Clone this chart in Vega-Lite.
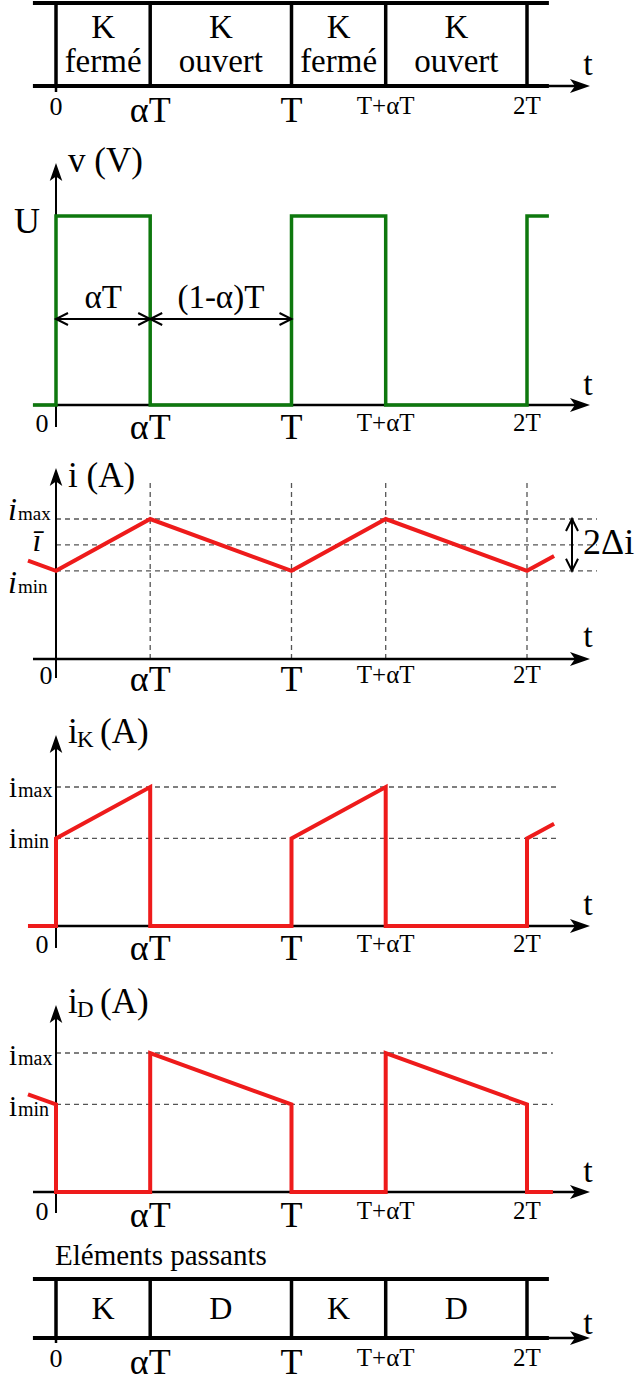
{
"$schema":"https://vega.github.io/schema/vega-lite/v6.json",
"padding":0,"spacing":0,"bounds":"flush","background":"white",
"config":{"view":{"stroke":null},"axis":{"disable":true},"concat":{"spacing":0},"text":{"font":"Liberation Serif","color":"black"}},
"data":{"values":[{}]},
"datasets":{
"ticks":[{"t":0,"lab":"0"},{"t":0.4,"lab":"αT"},{"t":1,"lab":"T"},{"t":1.4,"lab":"T+αT"},{"t":2,"lab":"2T"}],
"switch":[{"from":0,"to":0.4,"mid":0.2,"line1":"K","line2":"fermé"},{"from":0.4,"to":1,"mid":0.7,"line1":"K","line2":"ouvert"},{"from":1,"to":1.4,"mid":1.2,"line1":"K","line2":"fermé"},{"from":1.4,"to":2,"mid":1.7,"line1":"K","line2":"ouvert"}],
"passing":[{"mid":0.2,"elem":"K"},{"mid":0.7,"elem":"D"},{"mid":1.2,"elem":"K"},{"mid":1.7,"elem":"D"}],
"dims":[{"from":0,"to":0.4,"mid":0.2,"lab":"αT"},{"from":0.4,"to":1,"mid":0.7,"lab":"(1-α)T"}],
"levels3":[{"name":"imax","lvl":1},{"name":"imean","lvl":0.815},{"name":"imin","lvl":0.63}],
"levels":[{"name":"imax","lvl":1},{"name":"imin","lvl":0.63}],
"v":[{"n":0,"t":-0.098,"v":0},{"n":1,"t":0,"v":0},{"n":2,"t":0,"v":1},{"n":3,"t":0.4,"v":1},{"n":4,"t":0.4,"v":0},{"n":5,"t":1,"v":0},{"n":6,"t":1,"v":1},{"n":7,"t":1.4,"v":1},{"n":8,"t":1.4,"v":0},{"n":9,"t":2,"v":0},{"n":10,"t":2,"v":1},{"n":11,"t":2.093,"v":1}],
"i":[{"n":0,"t":-0.119,"i":0.703},{"n":1,"t":0,"i":0.63},{"n":2,"t":0.4,"i":1},{"n":3,"t":1,"i":0.63},{"n":4,"t":1.4,"i":1},{"n":5,"t":2,"i":0.63},{"n":6,"t":2.115,"i":0.736}],
"iK":[{"n":0,"t":-0.119,"i":0},{"n":1,"t":0,"i":0},{"n":2,"t":0,"i":0.63},{"n":3,"t":0.4,"i":1},{"n":4,"t":0.4,"i":0},{"n":5,"t":1,"i":0},{"n":6,"t":1,"i":0.63},{"n":7,"t":1.4,"i":1},{"n":8,"t":1.4,"i":0},{"n":9,"t":2,"i":0},{"n":10,"t":2,"i":0.63},{"n":11,"t":2.115,"i":0.736}],
"iD":[{"n":0,"t":-0.119,"i":0.703},{"n":1,"t":0,"i":0.63},{"n":2,"t":0,"i":0},{"n":3,"t":0.4,"i":0},{"n":4,"t":0.4,"i":1},{"n":5,"t":1,"i":0.63},{"n":6,"t":1,"i":0},{"n":7,"t":1.4,"i":0},{"n":8,"t":1.4,"i":1},{"n":9,"t":2,"i":0.63},{"n":10,"t":2,"i":0},{"n":11,"t":2.11,"i":0}]
},
"vconcat":[
{"width":644,"height":125,"layer":[
{"data":{"values":[{"edge":"bottom","lvl":0},{"edge":"top","lvl":1}]},"mark":{"type":"rule","color":"black","strokeWidth":4},"encoding":{"x":{"datum":-0.098,"type":"quantitative","scale":{"domain":[-0.23779,2.49682],"nice":false,"zero":false}},"x2":{"datum":2.093},"y":{"field":"lvl","type":"quantitative","scale":{"domain":[-0.46988,1.03614],"nice":false,"zero":false}}}},
{"data":{"name":"ticks"},"mark":{"type":"rule","color":"black","strokeWidth":3.5},"encoding":{"x":{"field":"t","type":"quantitative","scale":{"domain":[-0.23779,2.49682],"nice":false,"zero":false}},"y":{"datum":0,"type":"quantitative","scale":{"domain":[-0.46988,1.03614],"nice":false,"zero":false}},"y2":{"datum":1}}},
{"mark":{"type":"rule","color":"black","strokeWidth":2.5},"encoding":{"x":{"datum":0,"type":"quantitative","scale":{"domain":[-0.23779,2.49682],"nice":false,"zero":false}},"y":{"datum":-0.072,"type":"quantitative","scale":{"domain":[-0.46988,1.03614],"nice":false,"zero":false}},"y2":{"datum":0}}},
{"mark":{"type":"rule","color":"black","strokeWidth":2.5},"encoding":{"x":{"datum":2.09,"type":"quantitative","scale":{"domain":[-0.23779,2.49682],"nice":false,"zero":false}},"x2":{"datum":2.23},"y":{"datum":0,"type":"quantitative","scale":{"domain":[-0.46988,1.03614],"nice":false,"zero":false}}}},
{"mark":{"type":"point","shape":"M0,0L-2,-0.7L-1.5,0L-2,0.7Z","size":400,"filled":true,"color":"black","opacity":1,"strokeWidth":0},"encoding":{"x":{"datum":2.2675,"type":"quantitative","scale":{"domain":[-0.23779,2.49682],"nice":false,"zero":false}},"y":{"datum":0,"type":"quantitative","scale":{"domain":[-0.46988,1.03614],"nice":false,"zero":false}}}},
{"data":{"name":"switch"},"mark":{"type":"text","fontSize":33,"dy":-6,"baseline":"alphabetic","align":"center"},"encoding":{"x":{"field":"mid","type":"quantitative","scale":{"domain":[-0.23779,2.49682],"nice":false,"zero":false}},"y":{"datum":0.5,"type":"quantitative","scale":{"domain":[-0.46988,1.03614],"nice":false,"zero":false}},"text":{"field":"line1"}}},
{"data":{"name":"switch"},"mark":{"type":"text","fontSize":33,"dy":27.5,"baseline":"alphabetic","align":"center"},"encoding":{"x":{"field":"mid","type":"quantitative","scale":{"domain":[-0.23779,2.49682],"nice":false,"zero":false}},"y":{"datum":0.5,"type":"quantitative","scale":{"domain":[-0.46988,1.03614],"nice":false,"zero":false}},"text":{"field":"line2"}}},
{"data":{"name":"ticks"},"transform":[{"filter":"datum.lab !== '0'"}],"mark":{"type":"text","baseline":"top","align":"center","dy":8},"encoding":{"x":{"field":"t","type":"quantitative","scale":{"domain":[-0.23779,2.49682],"nice":false,"zero":false}},"y":{"datum":0,"type":"quantitative","scale":{"domain":[-0.46988,1.03614],"nice":false,"zero":false}},"text":{"field":"lab"},"size":{"condition":{"test":"datum.lab === 'αT' || datum.lab === 'T'","value":36},"value":25}}},
{"data":{"name":"ticks"},"transform":[{"filter":"datum.lab === '0'"}],"mark":{"type":"text","baseline":"top","align":"center","dy":8,"fontSize":26},"encoding":{"x":{"field":"t","type":"quantitative","scale":{"domain":[-0.23779,2.49682],"nice":false,"zero":false}},"y":{"datum":0,"type":"quantitative","scale":{"domain":[-0.46988,1.03614],"nice":false,"zero":false}},"text":{"field":"lab"}}},
{"mark":{"type":"text","text":"t","fontSize":34,"dy":-11,"baseline":"alphabetic","align":"center"},"encoding":{"x":{"datum":2.259,"type":"quantitative","scale":{"domain":[-0.23779,2.49682],"nice":false,"zero":false}},"y":{"datum":0,"type":"quantitative","scale":{"domain":[-0.46988,1.03614],"nice":false,"zero":false}}}}
]},
{"width":644,"height":315,"layer":[
{"mark":{"type":"rule","color":"black","strokeWidth":2.5},"encoding":{"x":{"datum":-0.0977,"type":"quantitative","scale":{"domain":[-0.23779,2.49682],"nice":false,"zero":false}},"x2":{"datum":2.225},"y":{"datum":0,"type":"quantitative","scale":{"domain":[-0.18519,1.48148],"nice":false,"zero":false}}}},
{"mark":{"type":"rule","color":"black","strokeWidth":2},"encoding":{"x":{"datum":0,"type":"quantitative","scale":{"domain":[-0.23779,2.49682],"nice":false,"zero":false}},"y":{"datum":-0.1164,"type":"quantitative","scale":{"domain":[-0.18519,1.48148],"nice":false,"zero":false}},"y2":{"datum":1.2275}}},
{"data":{"name":"v"},"mark":{"type":"line","color":"#0e780e","strokeWidth":3.5,"strokeJoin":"miter"},"encoding":{"x":{"field":"t","type":"quantitative","scale":{"domain":[-0.23779,2.49682],"nice":false,"zero":false}},"y":{"field":"v","type":"quantitative","scale":{"domain":[-0.18519,1.48148],"nice":false,"zero":false}},"order":{"field":"n"}}},
{"data":{"name":"dims"},"mark":{"type":"rule","color":"black","strokeWidth":2},"encoding":{"x":{"field":"from","type":"quantitative","scale":{"domain":[-0.23779,2.49682],"nice":false,"zero":false}},"x2":{"field":"to"},"y":{"datum":0.455,"type":"quantitative","scale":{"domain":[-0.18519,1.48148],"nice":false,"zero":false}}}},
{"data":{"name":"dims"},"mark":{"type":"point","shape":"M2,-1L0,0L2,1","size":144,"filled":false,"color":"black","opacity":1,"strokeWidth":2},"encoding":{"x":{"field":"from","type":"quantitative","scale":{"domain":[-0.23779,2.49682],"nice":false,"zero":false}},"y":{"datum":0.455,"type":"quantitative","scale":{"domain":[-0.18519,1.48148],"nice":false,"zero":false}}}},
{"data":{"name":"dims"},"mark":{"type":"point","shape":"M-2,-1L0,0L-2,1","size":144,"filled":false,"color":"black","opacity":1,"strokeWidth":2},"encoding":{"x":{"field":"to","type":"quantitative","scale":{"domain":[-0.23779,2.49682],"nice":false,"zero":false}},"y":{"datum":0.455,"type":"quantitative","scale":{"domain":[-0.18519,1.48148],"nice":false,"zero":false}}}},
{"data":{"name":"dims"},"mark":{"type":"text","fontSize":33,"dy":-11,"baseline":"alphabetic","align":"center"},"encoding":{"x":{"field":"mid","type":"quantitative","scale":{"domain":[-0.23779,2.49682],"nice":false,"zero":false}},"y":{"datum":0.455,"type":"quantitative","scale":{"domain":[-0.18519,1.48148],"nice":false,"zero":false}},"text":{"field":"lab"}}},
{"mark":{"type":"point","shape":"M0,0L-2,-0.7L-1.5,0L-2,0.7Z","size":400,"filled":true,"color":"black","opacity":1,"strokeWidth":0},"encoding":{"x":{"datum":2.2675,"type":"quantitative","scale":{"domain":[-0.23779,2.49682],"nice":false,"zero":false}},"y":{"datum":0,"type":"quantitative","scale":{"domain":[-0.18519,1.48148],"nice":false,"zero":false}}}},
{"mark":{"type":"point","shape":"M0,0L-0.7,2L0,1.5L0.7,2Z","size":324,"filled":true,"color":"black","opacity":1,"strokeWidth":0},"encoding":{"x":{"datum":0,"type":"quantitative","scale":{"domain":[-0.23779,2.49682],"nice":false,"zero":false}},"y":{"datum":1.2804,"type":"quantitative","scale":{"domain":[-0.18519,1.48148],"nice":false,"zero":false}}}},
{"mark":{"type":"text","text":"v (V)","fontSize":35,"dx":12,"dy":9,"baseline":"alphabetic","align":"left"},"encoding":{"x":{"datum":0,"type":"quantitative","scale":{"domain":[-0.23779,2.49682],"nice":false,"zero":false}},"y":{"datum":1.2804,"type":"quantitative","scale":{"domain":[-0.18519,1.48148],"nice":false,"zero":false}}}},
{"mark":{"type":"text","text":"U","fontSize":36,"dx":-16,"dy":17,"baseline":"alphabetic","align":"right"},"encoding":{"x":{"datum":0,"type":"quantitative","scale":{"domain":[-0.23779,2.49682],"nice":false,"zero":false}},"y":{"datum":1,"type":"quantitative","scale":{"domain":[-0.18519,1.48148],"nice":false,"zero":false}}}},
{"data":{"name":"ticks"},"transform":[{"filter":"datum.lab !== '0'"}],"mark":{"type":"text","baseline":"top","align":"center","dy":6},"encoding":{"x":{"field":"t","type":"quantitative","scale":{"domain":[-0.23779,2.49682],"nice":false,"zero":false}},"y":{"datum":0,"type":"quantitative","scale":{"domain":[-0.18519,1.48148],"nice":false,"zero":false}},"text":{"field":"lab"},"size":{"condition":{"test":"datum.lab === 'αT' || datum.lab === 'T'","value":36},"value":25}}},
{"data":{"name":"ticks"},"transform":[{"filter":"datum.lab === '0'"}],"mark":{"type":"text","baseline":"top","align":"center","dy":6,"dx":-14,"fontSize":26},"encoding":{"x":{"field":"t","type":"quantitative","scale":{"domain":[-0.23779,2.49682],"nice":false,"zero":false}},"y":{"datum":0,"type":"quantitative","scale":{"domain":[-0.18519,1.48148],"nice":false,"zero":false}},"text":{"field":"lab"}}},
{"mark":{"type":"text","text":"t","fontSize":34,"dy":-10,"baseline":"alphabetic","align":"center"},"encoding":{"x":{"datum":2.259,"type":"quantitative","scale":{"domain":[-0.23779,2.49682],"nice":false,"zero":false}},"y":{"datum":0,"type":"quantitative","scale":{"domain":[-0.18519,1.48148],"nice":false,"zero":false}}}}
]},
{"width":644,"height":260,"layer":[
{"data":{"name":"ticks"},"transform":[{"filter":"datum.t > 0"}],"mark":{"type":"rule","color":"#555555","strokeWidth":1.3,"strokeDash":[5,4]},"encoding":{"x":{"field":"t","type":"quantitative","scale":{"domain":[-0.23779,2.49682],"nice":false,"zero":false}},"y":{"datum":0,"type":"quantitative","scale":{"domain":[-0.29286,1.56429],"nice":false,"zero":false}},"y2":{"datum":1.2786}}},
{"data":{"name":"levels3"},"mark":{"type":"rule","color":"#555555","strokeWidth":1.3,"strokeDash":[5,4]},"encoding":{"x":{"datum":0,"type":"quantitative","scale":{"domain":[-0.23779,2.49682],"nice":false,"zero":false}},"x2":{"datum":2.2972},"y":{"field":"lvl","type":"quantitative","scale":{"domain":[-0.29286,1.56429],"nice":false,"zero":false}}}},
{"mark":{"type":"rule","color":"black","strokeWidth":2.5},"encoding":{"x":{"datum":-0.0977,"type":"quantitative","scale":{"domain":[-0.23779,2.49682],"nice":false,"zero":false}},"x2":{"datum":2.225},"y":{"datum":0,"type":"quantitative","scale":{"domain":[-0.29286,1.56429],"nice":false,"zero":false}}}},
{"mark":{"type":"rule","color":"black","strokeWidth":2},"encoding":{"x":{"datum":0,"type":"quantitative","scale":{"domain":[-0.23779,2.49682],"nice":false,"zero":false}},"y":{"datum":-0.1357,"type":"quantitative","scale":{"domain":[-0.29286,1.56429],"nice":false,"zero":false}},"y2":{"datum":1.2929}}},
{"data":{"name":"i"},"mark":{"type":"line","color":"#ee1b1b","strokeWidth":4,"strokeJoin":"miter"},"encoding":{"x":{"field":"t","type":"quantitative","scale":{"domain":[-0.23779,2.49682],"nice":false,"zero":false}},"y":{"field":"i","type":"quantitative","scale":{"domain":[-0.29286,1.56429],"nice":false,"zero":false}},"order":{"field":"n"}}},
{"mark":{"type":"rule","color":"black","strokeWidth":2},"encoding":{"x":{"datum":2.1911,"type":"quantitative","scale":{"domain":[-0.23779,2.49682],"nice":false,"zero":false}},"y":{"datum":0.63,"type":"quantitative","scale":{"domain":[-0.29286,1.56429],"nice":false,"zero":false}},"y2":{"datum":1}}},
{"mark":{"type":"point","shape":"M-1,2L0,0L1,2","size":144,"filled":false,"color":"black","opacity":1,"strokeWidth":2},"encoding":{"x":{"datum":2.1911,"type":"quantitative","scale":{"domain":[-0.23779,2.49682],"nice":false,"zero":false}},"y":{"datum":1,"type":"quantitative","scale":{"domain":[-0.29286,1.56429],"nice":false,"zero":false}}}},
{"mark":{"type":"point","shape":"M-1,-2L0,0L1,-2","size":144,"filled":false,"color":"black","opacity":1,"strokeWidth":2},"encoding":{"x":{"datum":2.1911,"type":"quantitative","scale":{"domain":[-0.23779,2.49682],"nice":false,"zero":false}},"y":{"datum":0.63,"type":"quantitative","scale":{"domain":[-0.29286,1.56429],"nice":false,"zero":false}}}},
{"mark":{"type":"point","shape":"M0,0L-2,-0.7L-1.5,0L-2,0.7Z","size":400,"filled":true,"color":"black","opacity":1,"strokeWidth":0},"encoding":{"x":{"datum":2.2675,"type":"quantitative","scale":{"domain":[-0.23779,2.49682],"nice":false,"zero":false}},"y":{"datum":0,"type":"quantitative","scale":{"domain":[-0.29286,1.56429],"nice":false,"zero":false}}}},
{"mark":{"type":"point","shape":"M0,0L-0.7,2L0,1.5L0.7,2Z","size":324,"filled":true,"color":"black","opacity":1,"strokeWidth":0},"encoding":{"x":{"datum":0,"type":"quantitative","scale":{"domain":[-0.23779,2.49682],"nice":false,"zero":false}},"y":{"datum":1.3643,"type":"quantitative","scale":{"domain":[-0.29286,1.56429],"nice":false,"zero":false}}}},
{"mark":{"type":"text","text":"i (A)","fontSize":35,"dx":12,"dy":19,"baseline":"alphabetic","align":"left"},"encoding":{"x":{"datum":0,"type":"quantitative","scale":{"domain":[-0.23779,2.49682],"nice":false,"zero":false}},"y":{"datum":1.3643,"type":"quantitative","scale":{"domain":[-0.29286,1.56429],"nice":false,"zero":false}}}},
{"mark":{"type":"text","text":"i","fontSize":32,"fontStyle":"italic","dx":-48,"dy":1,"baseline":"alphabetic","align":"left"},"encoding":{"x":{"datum":0,"type":"quantitative","scale":{"domain":[-0.23779,2.49682],"nice":false,"zero":false}},"y":{"datum":1,"type":"quantitative","scale":{"domain":[-0.29286,1.56429],"nice":false,"zero":false}}}},
{"mark":{"type":"text","text":"max","fontSize":19,"dx":-38,"dy":1,"baseline":"alphabetic","align":"left"},"encoding":{"x":{"datum":0,"type":"quantitative","scale":{"domain":[-0.23779,2.49682],"nice":false,"zero":false}},"y":{"datum":1,"type":"quantitative","scale":{"domain":[-0.29286,1.56429],"nice":false,"zero":false}}}},
{"mark":{"type":"text","text":"ī","fontSize":32,"fontStyle":"italic","dx":-19,"dy":6,"baseline":"alphabetic","align":"center"},"encoding":{"x":{"datum":0,"type":"quantitative","scale":{"domain":[-0.23779,2.49682],"nice":false,"zero":false}},"y":{"datum":0.815,"type":"quantitative","scale":{"domain":[-0.29286,1.56429],"nice":false,"zero":false}}}},
{"mark":{"type":"text","text":"i","fontSize":32,"fontStyle":"italic","dx":-48,"dy":22,"baseline":"alphabetic","align":"left"},"encoding":{"x":{"datum":0,"type":"quantitative","scale":{"domain":[-0.23779,2.49682],"nice":false,"zero":false}},"y":{"datum":0.63,"type":"quantitative","scale":{"domain":[-0.29286,1.56429],"nice":false,"zero":false}}}},
{"mark":{"type":"text","text":"min","fontSize":19,"dx":-38,"dy":22,"baseline":"alphabetic","align":"left"},"encoding":{"x":{"datum":0,"type":"quantitative","scale":{"domain":[-0.23779,2.49682],"nice":false,"zero":false}},"y":{"datum":0.63,"type":"quantitative","scale":{"domain":[-0.29286,1.56429],"nice":false,"zero":false}}}},
{"mark":{"type":"text","text":"2Δi","fontSize":36,"dx":11,"dy":9,"baseline":"alphabetic","align":"left"},"encoding":{"x":{"datum":2.1911,"type":"quantitative","scale":{"domain":[-0.23779,2.49682],"nice":false,"zero":false}},"y":{"datum":0.815,"type":"quantitative","scale":{"domain":[-0.29286,1.56429],"nice":false,"zero":false}}}},
{"data":{"name":"ticks"},"transform":[{"filter":"datum.lab !== '0'"}],"mark":{"type":"text","baseline":"top","align":"center","dy":4},"encoding":{"x":{"field":"t","type":"quantitative","scale":{"domain":[-0.23779,2.49682],"nice":false,"zero":false}},"y":{"datum":0,"type":"quantitative","scale":{"domain":[-0.29286,1.56429],"nice":false,"zero":false}},"text":{"field":"lab"},"size":{"condition":{"test":"datum.lab === 'αT' || datum.lab === 'T'","value":36},"value":25}}},
{"data":{"name":"ticks"},"transform":[{"filter":"datum.lab === '0'"}],"mark":{"type":"text","baseline":"top","align":"center","dy":4,"dx":-10,"fontSize":26},"encoding":{"x":{"field":"t","type":"quantitative","scale":{"domain":[-0.23779,2.49682],"nice":false,"zero":false}},"y":{"datum":0,"type":"quantitative","scale":{"domain":[-0.29286,1.56429],"nice":false,"zero":false}},"text":{"field":"lab"}}},
{"mark":{"type":"text","text":"t","fontSize":34,"dy":-12,"baseline":"alphabetic","align":"center"},"encoding":{"x":{"datum":2.259,"type":"quantitative","scale":{"domain":[-0.23779,2.49682],"nice":false,"zero":false}},"y":{"datum":0,"type":"quantitative","scale":{"domain":[-0.29286,1.56429],"nice":false,"zero":false}}}}
]},
{"width":644,"height":260,"layer":[
{"data":{"name":"levels"},"mark":{"type":"rule","color":"#555555","strokeWidth":1.3,"strokeDash":[5,4]},"encoding":{"x":{"datum":0,"type":"quantitative","scale":{"domain":[-0.23779,2.49682],"nice":false,"zero":false}},"x2":{"datum":2.1359},"y":{"field":"lvl","type":"quantitative","scale":{"domain":[-0.2446,1.6259],"nice":false,"zero":false}}}},
{"mark":{"type":"rule","color":"black","strokeWidth":2.5},"encoding":{"x":{"datum":-0.0977,"type":"quantitative","scale":{"domain":[-0.23779,2.49682],"nice":false,"zero":false}},"x2":{"datum":2.225},"y":{"datum":0,"type":"quantitative","scale":{"domain":[-0.2446,1.6259],"nice":false,"zero":false}}}},
{"mark":{"type":"rule","color":"black","strokeWidth":2},"encoding":{"x":{"datum":0,"type":"quantitative","scale":{"domain":[-0.23779,2.49682],"nice":false,"zero":false}},"y":{"datum":-0.158,"type":"quantitative","scale":{"domain":[-0.2446,1.6259],"nice":false,"zero":false}},"y2":{"datum":1.3022}}},
{"data":{"name":"iK"},"mark":{"type":"line","color":"#ee1b1b","strokeWidth":4,"strokeJoin":"miter"},"encoding":{"x":{"field":"t","type":"quantitative","scale":{"domain":[-0.23779,2.49682],"nice":false,"zero":false}},"y":{"field":"i","type":"quantitative","scale":{"domain":[-0.2446,1.6259],"nice":false,"zero":false}},"order":{"field":"n"}}},
{"mark":{"type":"point","shape":"M0,0L-2,-0.7L-1.5,0L-2,0.7Z","size":400,"filled":true,"color":"black","opacity":1,"strokeWidth":0},"encoding":{"x":{"datum":2.2675,"type":"quantitative","scale":{"domain":[-0.23779,2.49682],"nice":false,"zero":false}},"y":{"datum":0,"type":"quantitative","scale":{"domain":[-0.2446,1.6259],"nice":false,"zero":false}}}},
{"mark":{"type":"point","shape":"M0,0L-0.7,2L0,1.5L0.7,2Z","size":324,"filled":true,"color":"black","opacity":1,"strokeWidth":0},"encoding":{"x":{"datum":0,"type":"quantitative","scale":{"domain":[-0.23779,2.49682],"nice":false,"zero":false}},"y":{"datum":1.374,"type":"quantitative","scale":{"domain":[-0.2446,1.6259],"nice":false,"zero":false}}}},
{"mark":{"type":"text","text":"i","fontSize":35,"dx":12,"dy":8,"baseline":"alphabetic","align":"left"},"encoding":{"x":{"datum":0,"type":"quantitative","scale":{"domain":[-0.23779,2.49682],"nice":false,"zero":false}},"y":{"datum":1.374,"type":"quantitative","scale":{"domain":[-0.2446,1.6259],"nice":false,"zero":false}}}},
{"mark":{"type":"text","text":"K","fontSize":23,"dx":21,"dy":12,"baseline":"alphabetic","align":"left"},"encoding":{"x":{"datum":0,"type":"quantitative","scale":{"domain":[-0.23779,2.49682],"nice":false,"zero":false}},"y":{"datum":1.374,"type":"quantitative","scale":{"domain":[-0.2446,1.6259],"nice":false,"zero":false}}}},
{"mark":{"type":"text","text":"(A)","fontSize":35,"dx":44,"dy":8,"baseline":"alphabetic","align":"left"},"encoding":{"x":{"datum":0,"type":"quantitative","scale":{"domain":[-0.23779,2.49682],"nice":false,"zero":false}},"y":{"datum":1.374,"type":"quantitative","scale":{"domain":[-0.2446,1.6259],"nice":false,"zero":false}}}},
{"mark":{"type":"text","text":"i","fontSize":29,"dx":-47,"dy":10,"baseline":"alphabetic","align":"left"},"encoding":{"x":{"datum":0,"type":"quantitative","scale":{"domain":[-0.23779,2.49682],"nice":false,"zero":false}},"y":{"datum":1,"type":"quantitative","scale":{"domain":[-0.2446,1.6259],"nice":false,"zero":false}}}},
{"mark":{"type":"text","text":"max","fontSize":20,"dx":-38,"dy":10,"baseline":"alphabetic","align":"left"},"encoding":{"x":{"datum":0,"type":"quantitative","scale":{"domain":[-0.23779,2.49682],"nice":false,"zero":false}},"y":{"datum":1,"type":"quantitative","scale":{"domain":[-0.2446,1.6259],"nice":false,"zero":false}}}},
{"mark":{"type":"text","text":"i","fontSize":29,"dx":-47,"dy":10,"baseline":"alphabetic","align":"left"},"encoding":{"x":{"datum":0,"type":"quantitative","scale":{"domain":[-0.23779,2.49682],"nice":false,"zero":false}},"y":{"datum":0.63,"type":"quantitative","scale":{"domain":[-0.2446,1.6259],"nice":false,"zero":false}}}},
{"mark":{"type":"text","text":"min","fontSize":20,"dx":-38,"dy":10,"baseline":"alphabetic","align":"left"},"encoding":{"x":{"datum":0,"type":"quantitative","scale":{"domain":[-0.23779,2.49682],"nice":false,"zero":false}},"y":{"datum":0.63,"type":"quantitative","scale":{"domain":[-0.2446,1.6259],"nice":false,"zero":false}}}},
{"data":{"name":"ticks"},"transform":[{"filter":"datum.lab !== '0'"}],"mark":{"type":"text","baseline":"top","align":"center","dy":6},"encoding":{"x":{"field":"t","type":"quantitative","scale":{"domain":[-0.23779,2.49682],"nice":false,"zero":false}},"y":{"datum":0,"type":"quantitative","scale":{"domain":[-0.2446,1.6259],"nice":false,"zero":false}},"text":{"field":"lab"},"size":{"condition":{"test":"datum.lab === 'αT' || datum.lab === 'T'","value":36},"value":25}}},
{"data":{"name":"ticks"},"transform":[{"filter":"datum.lab === '0'"}],"mark":{"type":"text","baseline":"top","align":"center","dy":6,"dx":-14,"fontSize":26},"encoding":{"x":{"field":"t","type":"quantitative","scale":{"domain":[-0.23779,2.49682],"nice":false,"zero":false}},"y":{"datum":0,"type":"quantitative","scale":{"domain":[-0.2446,1.6259],"nice":false,"zero":false}},"text":{"field":"lab"}}},
{"mark":{"type":"text","text":"t","fontSize":34,"dy":-11,"baseline":"alphabetic","align":"center"},"encoding":{"x":{"datum":2.259,"type":"quantitative","scale":{"domain":[-0.23779,2.49682],"nice":false,"zero":false}},"y":{"datum":0,"type":"quantitative","scale":{"domain":[-0.2446,1.6259],"nice":false,"zero":false}}}}
]},
{"width":644,"height":270,"layer":[
{"data":{"name":"levels"},"mark":{"type":"rule","color":"#555555","strokeWidth":1.3,"strokeDash":[5,4]},"encoding":{"x":{"datum":0,"type":"quantitative","scale":{"domain":[-0.23779,2.49682],"nice":false,"zero":false}},"x2":{"datum":2.11},"y":{"field":"lvl","type":"quantitative","scale":{"domain":[-0.2734,1.6691],"nice":false,"zero":false}}}},
{"mark":{"type":"rule","color":"black","strokeWidth":2.5},"encoding":{"x":{"datum":-0.0977,"type":"quantitative","scale":{"domain":[-0.23779,2.49682],"nice":false,"zero":false}},"x2":{"datum":2.225},"y":{"datum":0,"type":"quantitative","scale":{"domain":[-0.2734,1.6691],"nice":false,"zero":false}}}},
{"mark":{"type":"rule","color":"black","strokeWidth":2},"encoding":{"x":{"datum":0,"type":"quantitative","scale":{"domain":[-0.23779,2.49682],"nice":false,"zero":false}},"y":{"datum":-0.151,"type":"quantitative","scale":{"domain":[-0.2734,1.6691],"nice":false,"zero":false}},"y2":{"datum":1.2734}}},
{"data":{"name":"iD"},"mark":{"type":"line","color":"#ee1b1b","strokeWidth":4,"strokeJoin":"miter"},"encoding":{"x":{"field":"t","type":"quantitative","scale":{"domain":[-0.23779,2.49682],"nice":false,"zero":false}},"y":{"field":"i","type":"quantitative","scale":{"domain":[-0.2734,1.6691],"nice":false,"zero":false}},"order":{"field":"n"}}},
{"mark":{"type":"point","shape":"M0,0L-2,-0.7L-1.5,0L-2,0.7Z","size":400,"filled":true,"color":"black","opacity":1,"strokeWidth":0},"encoding":{"x":{"datum":2.2675,"type":"quantitative","scale":{"domain":[-0.23779,2.49682],"nice":false,"zero":false}},"y":{"datum":0,"type":"quantitative","scale":{"domain":[-0.2734,1.6691],"nice":false,"zero":false}}}},
{"mark":{"type":"point","shape":"M0,0L-0.7,2L0,1.5L0.7,2Z","size":324,"filled":true,"color":"black","opacity":1,"strokeWidth":0},"encoding":{"x":{"datum":0,"type":"quantitative","scale":{"domain":[-0.23779,2.49682],"nice":false,"zero":false}},"y":{"datum":1.345,"type":"quantitative","scale":{"domain":[-0.2734,1.6691],"nice":false,"zero":false}}}},
{"mark":{"type":"text","text":"i","fontSize":35,"dx":12,"dy":8,"baseline":"alphabetic","align":"left"},"encoding":{"x":{"datum":0,"type":"quantitative","scale":{"domain":[-0.23779,2.49682],"nice":false,"zero":false}},"y":{"datum":1.345,"type":"quantitative","scale":{"domain":[-0.2734,1.6691],"nice":false,"zero":false}}}},
{"mark":{"type":"text","text":"D","fontSize":23,"dx":21,"dy":12,"baseline":"alphabetic","align":"left"},"encoding":{"x":{"datum":0,"type":"quantitative","scale":{"domain":[-0.23779,2.49682],"nice":false,"zero":false}},"y":{"datum":1.345,"type":"quantitative","scale":{"domain":[-0.2734,1.6691],"nice":false,"zero":false}}}},
{"mark":{"type":"text","text":"(A)","fontSize":35,"dx":44,"dy":8,"baseline":"alphabetic","align":"left"},"encoding":{"x":{"datum":0,"type":"quantitative","scale":{"domain":[-0.23779,2.49682],"nice":false,"zero":false}},"y":{"datum":1.345,"type":"quantitative","scale":{"domain":[-0.2734,1.6691],"nice":false,"zero":false}}}},
{"mark":{"type":"text","text":"i","fontSize":29,"dx":-47,"dy":12,"baseline":"alphabetic","align":"left"},"encoding":{"x":{"datum":0,"type":"quantitative","scale":{"domain":[-0.23779,2.49682],"nice":false,"zero":false}},"y":{"datum":1,"type":"quantitative","scale":{"domain":[-0.2734,1.6691],"nice":false,"zero":false}}}},
{"mark":{"type":"text","text":"max","fontSize":20,"dx":-38,"dy":12,"baseline":"alphabetic","align":"left"},"encoding":{"x":{"datum":0,"type":"quantitative","scale":{"domain":[-0.23779,2.49682],"nice":false,"zero":false}},"y":{"datum":1,"type":"quantitative","scale":{"domain":[-0.2734,1.6691],"nice":false,"zero":false}}}},
{"mark":{"type":"text","text":"i","fontSize":29,"dx":-47,"dy":12,"baseline":"alphabetic","align":"left"},"encoding":{"x":{"datum":0,"type":"quantitative","scale":{"domain":[-0.23779,2.49682],"nice":false,"zero":false}},"y":{"datum":0.63,"type":"quantitative","scale":{"domain":[-0.2734,1.6691],"nice":false,"zero":false}}}},
{"mark":{"type":"text","text":"min","fontSize":20,"dx":-38,"dy":12,"baseline":"alphabetic","align":"left"},"encoding":{"x":{"datum":0,"type":"quantitative","scale":{"domain":[-0.23779,2.49682],"nice":false,"zero":false}},"y":{"datum":0.63,"type":"quantitative","scale":{"domain":[-0.2734,1.6691],"nice":false,"zero":false}}}},
{"data":{"name":"ticks"},"transform":[{"filter":"datum.lab !== '0'"}],"mark":{"type":"text","baseline":"top","align":"center","dy":7},"encoding":{"x":{"field":"t","type":"quantitative","scale":{"domain":[-0.23779,2.49682],"nice":false,"zero":false}},"y":{"datum":0,"type":"quantitative","scale":{"domain":[-0.2734,1.6691],"nice":false,"zero":false}},"text":{"field":"lab"},"size":{"condition":{"test":"datum.lab === 'αT' || datum.lab === 'T'","value":36},"value":25}}},
{"data":{"name":"ticks"},"transform":[{"filter":"datum.lab === '0'"}],"mark":{"type":"text","baseline":"top","align":"center","dy":7,"dx":-14,"fontSize":26},"encoding":{"x":{"field":"t","type":"quantitative","scale":{"domain":[-0.23779,2.49682],"nice":false,"zero":false}},"y":{"datum":0,"type":"quantitative","scale":{"domain":[-0.2734,1.6691],"nice":false,"zero":false}},"text":{"field":"lab"}}},
{"mark":{"type":"text","text":"t","fontSize":34,"dy":-10,"baseline":"alphabetic","align":"center"},"encoding":{"x":{"datum":2.259,"type":"quantitative","scale":{"domain":[-0.23779,2.49682],"nice":false,"zero":false}},"y":{"datum":0,"type":"quantitative","scale":{"domain":[-0.2734,1.6691],"nice":false,"zero":false}}}}
]},
{"width":644,"height":154,"layer":[
{"data":{"values":[{"edge":"bottom","lvl":0},{"edge":"top","lvl":1}]},"mark":{"type":"rule","color":"black","strokeWidth":4},"encoding":{"x":{"datum":-0.098,"type":"quantitative","scale":{"domain":[-0.23779,2.49682],"nice":false,"zero":false}},"x2":{"datum":2.093},"y":{"field":"lvl","type":"quantitative","scale":{"domain":[-0.7797,1.8305],"nice":false,"zero":false}}}},
{"data":{"name":"ticks"},"mark":{"type":"rule","color":"black","strokeWidth":3.5},"encoding":{"x":{"field":"t","type":"quantitative","scale":{"domain":[-0.23779,2.49682],"nice":false,"zero":false}},"y":{"datum":0,"type":"quantitative","scale":{"domain":[-0.7797,1.8305],"nice":false,"zero":false}},"y2":{"datum":1}}},
{"mark":{"type":"rule","color":"black","strokeWidth":2.5},"encoding":{"x":{"datum":0,"type":"quantitative","scale":{"domain":[-0.23779,2.49682],"nice":false,"zero":false}},"y":{"datum":-0.085,"type":"quantitative","scale":{"domain":[-0.7797,1.8305],"nice":false,"zero":false}},"y2":{"datum":0}}},
{"mark":{"type":"rule","color":"black","strokeWidth":2.5},"encoding":{"x":{"datum":2.09,"type":"quantitative","scale":{"domain":[-0.23779,2.49682],"nice":false,"zero":false}},"x2":{"datum":2.23},"y":{"datum":0,"type":"quantitative","scale":{"domain":[-0.7797,1.8305],"nice":false,"zero":false}}}},
{"mark":{"type":"point","shape":"M0,0L-2,-0.7L-1.5,0L-2,0.7Z","size":400,"filled":true,"color":"black","opacity":1,"strokeWidth":0},"encoding":{"x":{"datum":2.2675,"type":"quantitative","scale":{"domain":[-0.23779,2.49682],"nice":false,"zero":false}},"y":{"datum":0,"type":"quantitative","scale":{"domain":[-0.7797,1.8305],"nice":false,"zero":false}}}},
{"mark":{"type":"text","text":"Eléments passants","fontSize":29,"dx":-1,"dy":-14,"baseline":"alphabetic","align":"left"},"encoding":{"x":{"datum":0,"type":"quantitative","scale":{"domain":[-0.23779,2.49682],"nice":false,"zero":false}},"y":{"datum":1,"type":"quantitative","scale":{"domain":[-0.7797,1.8305],"nice":false,"zero":false}}}},
{"data":{"name":"passing"},"mark":{"type":"text","fontSize":32,"dy":11,"baseline":"alphabetic","align":"center"},"encoding":{"x":{"field":"mid","type":"quantitative","scale":{"domain":[-0.23779,2.49682],"nice":false,"zero":false}},"y":{"datum":0.5,"type":"quantitative","scale":{"domain":[-0.7797,1.8305],"nice":false,"zero":false}},"text":{"field":"elem"}}},
{"data":{"name":"ticks"},"transform":[{"filter":"datum.lab !== '0'"}],"mark":{"type":"text","baseline":"top","align":"center","dy":8},"encoding":{"x":{"field":"t","type":"quantitative","scale":{"domain":[-0.23779,2.49682],"nice":false,"zero":false}},"y":{"datum":0,"type":"quantitative","scale":{"domain":[-0.7797,1.8305],"nice":false,"zero":false}},"text":{"field":"lab"},"size":{"condition":{"test":"datum.lab === 'αT' || datum.lab === 'T'","value":36},"value":25}}},
{"data":{"name":"ticks"},"transform":[{"filter":"datum.lab === '0'"}],"mark":{"type":"text","baseline":"top","align":"center","dy":8,"fontSize":26},"encoding":{"x":{"field":"t","type":"quantitative","scale":{"domain":[-0.23779,2.49682],"nice":false,"zero":false}},"y":{"datum":0,"type":"quantitative","scale":{"domain":[-0.7797,1.8305],"nice":false,"zero":false}},"text":{"field":"lab"}}},
{"mark":{"type":"text","text":"t","fontSize":34,"dy":-4,"baseline":"alphabetic","align":"center"},"encoding":{"x":{"datum":2.259,"type":"quantitative","scale":{"domain":[-0.23779,2.49682],"nice":false,"zero":false}},"y":{"datum":0,"type":"quantitative","scale":{"domain":[-0.7797,1.8305],"nice":false,"zero":false}}}}
]}
]
}
